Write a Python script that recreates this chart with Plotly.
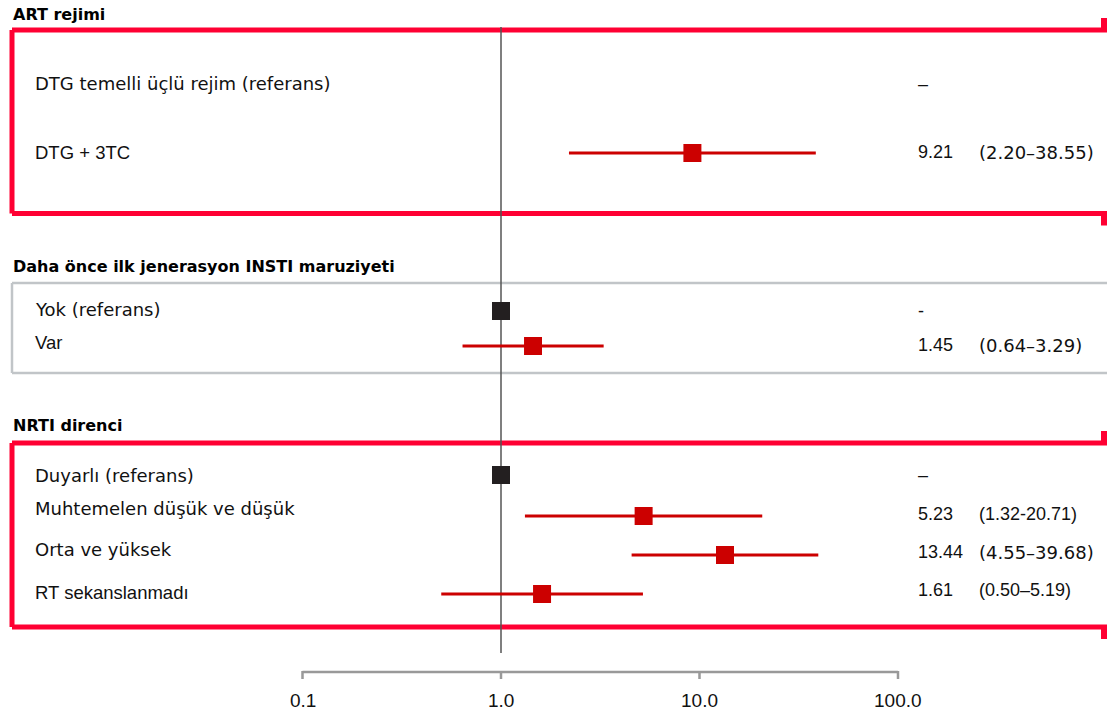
import math
import plotly.graph_objects as go

# ---------------- data ----------------
groups = ["ART rejimi", "Daha önce ilk jenerasyon INSTI maruziyeti", "NRTI direnci"]

labels = [
    "DTG temelli üçlü rejim (referans)", "DTG + 3TC",
    "Yok (referans)", "Var",
    "Duyarlı (referans)", "Muhtemelen düşük ve düşük", "Orta ve yüksek", "RT sekanslanmadı",
]
label_group = [0, 0, 1, 1, 2, 2, 2, 2]
is_reference = [True, False, True, False, True, False, False, False]
show_ref_marker = [False, False, True, False, True, False, False, False]

hr = [None, 9.21, None, 1.45, None, 5.23, 13.44, 1.61]
ci_low = [None, 2.20, None, 0.64, None, 1.32, 4.55, 0.50]
ci_high = [None, 38.55, None, 3.29, None, 20.71, 39.68, 5.19]

hr_text = ["–", "9.21", "-", "1.45", "–", "5.23", "13.44", "1.61"]
ci_text = ["", "(2.20–38.55)", "", "(0.64–3.29)", "", "(1.32-20.71)", "(4.55–39.68)", "(0.50–5.19)"]

tick_vals = [0.1, 1.0, 10.0, 100.0]
tick_labels = ["0.1", "1.0", "10.0", "100.0"]

# ---------------- layout (pixel rows) ----------------
W, H = 1107, 712
label_y = [83, 152, 309, 342, 475, 508, 549, 592]
mark_y = [83, 153, 311, 346, 475, 516, 555, 594]
value_y = [84, 152, 311, 345, 475, 514, 552, 590]
header_y = [14, 266, 425]
boxes = [  # (top, bottom, colour, width, bracket)
    (30, 213.5, "#FF0033", 5, True),
    (283, 373, "#C1C5C8", 2.5, False),
    (443, 627, "#FF0033", 5, True),
]
spaced = [True, False, True, False, True, True, True, False]
ci_spaced = [False, True, False, True, False, False, True, False]

RED = "#CC0000"
BLACK = "#231F20"
SANS = "Liberation Sans, Arial"
WIDE = "DejaVu Sans"

def px(xp):
    return xp / W

fig = go.Figure()

# boxes
for top, bot, col, w, bracket in boxes:
    x0 = px(12)
    for (xa, ya, xb, yb) in [(x0, top, 1.02, top), (x0, bot, 1.02, bot), (x0, top, x0, bot)]:
        fig.add_shape(type="line", xref="paper", yref="y", x0=xa, y0=ya, x1=xb, y1=yb,
                      line=dict(color=col, width=w), layer="below")
    if bracket:
        fig.add_shape(type="line", xref="paper", yref="y", x0=px(1104), x1=px(1104),
                      y0=top - 12, y1=top + 2, line=dict(color=col, width=6), layer="below")
        fig.add_shape(type="line", xref="paper", yref="y", x0=px(1104), x1=px(1104),
                      y0=bot - 2, y1=bot + 12, line=dict(color=col, width=6), layer="below")

# reference line at 1
fig.add_trace(go.Scatter(x=[1, 1], y=[27, 653], mode="lines",
                         line=dict(color="#555555", width=1.5), hoverinfo="skip"))

# bottom axis
fig.add_trace(go.Scatter(x=[tick_vals[0], tick_vals[-1]], y=[672, 672], mode="lines",
                         line=dict(color="#999999", width=2.5), hoverinfo="skip"))
for tv, tl in zip(tick_vals, tick_labels):
    fig.add_trace(go.Scatter(x=[tv, tv], y=[671, 679], mode="lines",
                             line=dict(color="#999999", width=2.5), hoverinfo="skip"))
    fig.add_annotation(x=math.log10(tv), y=700, xref="x", yref="y", text=tl, showarrow=False,
                       xanchor="center", yanchor="middle",
                       font=dict(family=SANS, size=19, color="#111111"))

# estimates with CI
ex, ey, lo_err, hi_err = [], [], [], []
for i in range(len(labels)):
    if hr[i] is not None:
        ex.append(hr[i]); ey.append(mark_y[i])
        lo_err.append(hr[i] - ci_low[i]); hi_err.append(ci_high[i] - hr[i])
fig.add_trace(go.Scatter(
    x=ex, y=ey, mode="markers",
    marker=dict(symbol="square", size=18, color=RED, line=dict(width=0)),
    error_x=dict(type="data", symmetric=False, array=hi_err, arrayminus=lo_err,
                 color=RED, thickness=3, width=0),
))

# reference markers
rx = [1.0 for i in range(len(labels)) if show_ref_marker[i]]
ry = [mark_y[i] for i in range(len(labels)) if show_ref_marker[i]]
fig.add_trace(go.Scatter(x=rx, y=ry, mode="markers",
                         marker=dict(symbol="square", size=18, color=BLACK, line=dict(width=0))))

# headers
for g, yy in zip(groups, header_y):
    fig.add_annotation(x=px(11), y=yy, xref="paper", yref="y", text=g, showarrow=False,
                       xanchor="left", yanchor="middle",
                       font=dict(family=WIDE, size=16, color="#000000", weight="bold"))

# row labels and values
for i, lab in enumerate(labels):
    fam = WIDE if spaced[i] else SANS
    fig.add_annotation(x=px(33), y=label_y[i], xref="paper", yref="y", text=lab, showarrow=False,
                       xanchor="left", yanchor="middle",
                       font=dict(family=fam, size=18 if spaced[i] else 18.5, color="#111111"))
    fig.add_annotation(x=px(916), y=value_y[i], xref="paper", yref="y", text=hr_text[i],
                       showarrow=False, xanchor="left", yanchor="middle",
                       font=dict(family=SANS, size=18, color="#111111"))
    if ci_text[i]:
        fam2 = WIDE if ci_spaced[i] else SANS
        fig.add_annotation(x=px(977), y=value_y[i], xref="paper", yref="y", text=ci_text[i],
                           showarrow=False, xanchor="left", yanchor="middle",
                           font=dict(family=fam2, size=18, color="#111111"))

fig.update_layout(
    width=W, height=H, autosize=False,
    margin=dict(l=0, r=0, t=0, b=0),
    paper_bgcolor="white", plot_bgcolor="white",
    showlegend=False, hovermode=False,
    xaxis=dict(type="log", range=[-2.524, 3.053], visible=False, fixedrange=True),
    yaxis=dict(range=[H, 0], visible=False, fixedrange=True),
)

fig.write_html("out.html", config={"displayModeBar": False, "staticPlot": True},
               post_script="document.body.style.margin='0';document.body.style.overflow='hidden';")
